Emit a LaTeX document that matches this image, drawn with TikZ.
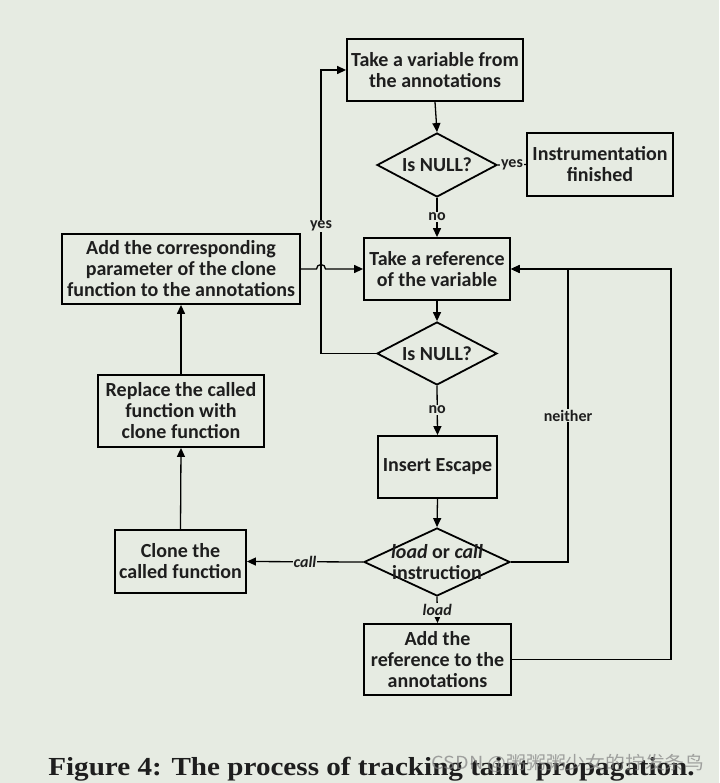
\documentclass[tikz,border=0pt]{standalone}
\usepackage{fontspec}
\setmainfont{Carlito}
\newfontfamily\capfont{Liberation Serif}
\newfontfamily\cjkfont{Noto Sans CJK SC}
\usetikzlibrary{shapes.geometric,arrows.meta}
\definecolor{bg}{HTML}{E6EBE2}
\definecolor{txt}{HTML}{1E1E1E}
\begin{document}
\begin{tikzpicture}[x=1pt,y=-1pt,
  box/.style={draw, line width=1.8pt, fill=bg, align=center, text=txt,
    font=\bfseries\fontsize{20}{21}\selectfont, inner sep=0},
  dia/.style={draw, diamond, line width=1.8pt, inner sep=0, fill=bg},
  diatext/.style={align=center, text=txt, font=\bfseries\fontsize{20}{21}\selectfont, inner sep=0},
  conn/.style={line width=1.3pt},
  arr/.style={conn, -{Triangle[length=9pt,width=8pt]}},
  lab/.style={font=\bfseries\fontsize{16}{17}\selectfont, text=txt, fill=bg, inner sep=1pt},
  ilab/.style={lab, font=\bfseries\itshape\fontsize{16}{17}\selectfont}]
\fill[bg] (0,0) rectangle (719,783);
\useasboundingbox (0,0) rectangle (719,783);

% nodes
\node[box, minimum width=176pt, minimum height=62pt] (a) at (435,70) {Take a variable from\\the annotations};
\node[dia, minimum width=120pt, minimum height=64pt] (d1) at (437,165) {};
\node[diatext] (d1t) at (d1) {Is NULL?};
\node[box, minimum width=146pt, minimum height=63pt] (fin) at (600,164.5) {Instrumentation\\finished};
\node[box, minimum width=146pt, minimum height=62pt] (b) at (437,269) {Take a reference\\of the variable};
\node[dia, minimum width=120pt, minimum height=63pt] (d2) at (437,353.5) {};
\node[diatext] (d2t) at (d2) {Is NULL?};
\node[box, minimum width=119pt, minimum height=62pt] (c) at (437.5,467) {Insert Escape};
\node[dia, minimum width=146pt, minimum height=68pt] (d3) at (437,562) {};
\node[diatext] (d3t) at (d3) {\itshape load\upshape{} or \itshape call\\\upshape instruction};
\node[box, minimum width=147pt, minimum height=71pt] (e) at (437.5,659.5) {Add the\\reference to the\\annotations};
\node[box, minimum width=131pt, minimum height=63pt] (f) at (180.5,561.5) {Clone the\\called function};
\node[box, minimum width=166pt, minimum height=72pt] (g) at (181,411) {Replace the called\\function with\\clone function};
\node[box, minimum width=238pt, minimum height=70pt] (h) at (181,269) {Add the corresponding\\parameter of the clone\\function to the annotations};

\coordinate (yl) at (321,0);
\coordinate (nl) at (568,0);
\coordinate (rl) at (671,0);

% connectors
\draw[arr] (a.south) -- (d1.north);
\draw[conn] (d1.east) -- node[lab, midway] (yes1) {yes} (fin.west);
\draw[arr] (d1.south) -- node[lab, pos=0.48] (no1) {no} (b.north);
\draw[arr] (b.south) -- (d2.north);
\draw[arr] (d2.west) -- (d2.west -| yl) -- node[lab, pos=0.45] (yes2) {yes} (a.west -| yl) -- (a.west);
\draw[arr] (h.east) -- ([xshift=-4.5pt]h.east -| yl) arc[start angle=180, end angle=0, radius=4.5pt] -- (b.west);
\draw[arr] (d2.south) -- node[lab, pos=0.48] (no2) {no} (c.north);
\draw[arr] (c.south) -- (d3.north);
\draw[arr] (d3.east) -- (d3.east -| nl) -- node[lab, pos=0.5] (nei) {neither} (b.east -| nl) -- (b.east);
\draw[arr] (e.east) -- (e.east -| rl) -- (b.east -| rl) -- (b.east);
\draw[arr] (d3.west) -- node[ilab, pos=0.5] (call) {call} (f.east);
\draw[arr] (d3.south) -- node[ilab, pos=0.5] (load) {load} (e.north);
\draw[arr] (f.north) -- (g.south);
\draw[arr] (g.north) -- (h.south);

% caption
\node[font=\capfont\bfseries\fontsize{26}{28}\selectfont, text=txt, xscale=1.12, inner sep=0] (cap) at (371.5,769) {Figure 4: The process of tracking taint propagation.};
\node[font=\cjkfont\fontsize{18}{19}\selectfont, text=gray, opacity=0.7, xscale=1.1, inner sep=0] (wm) at (568,763) {CSDN @粥粥粥少女的拧发条鸟};
\end{tikzpicture}
\end{document}
